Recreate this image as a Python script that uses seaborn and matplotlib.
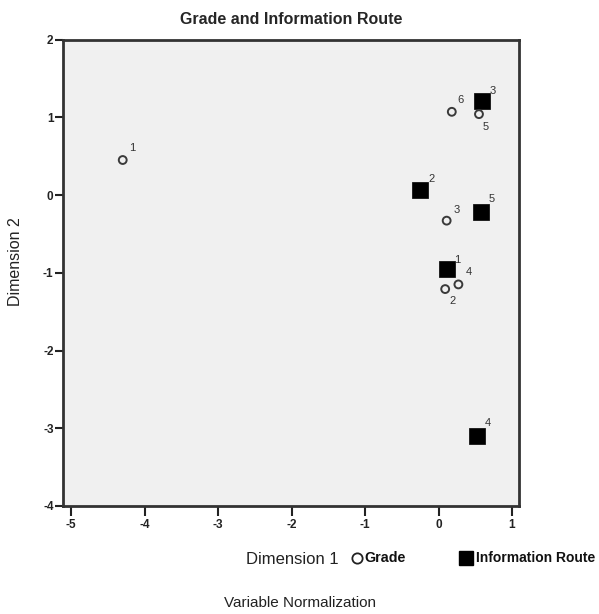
import pandas as pd
import numpy as np
import matplotlib
matplotlib.use("Agg")
import matplotlib.pyplot as plt
from matplotlib.lines import Line2D
import seaborn as sns

# category points
grade_labels = ["1", "2", "3", "4", "5", "6"]
grade_dim1 = [-4.30, 0.09, 0.11, 0.27, 0.55, 0.18]
grade_dim2 = [0.45, -1.21, -0.33, -1.15, 1.04, 1.07]

route_labels = ["1", "2", "3", "4", "5"]
route_dim1 = [0.12, -0.25, 0.59, 0.52, 0.58]
route_dim2 = [-0.95, 0.07, 1.21, -3.10, -0.22]

# label offsets in pixels (dx, dy) relative to each point
grade_offsets = [(9, 12), (7, -12), (10, 11), (10, 12), (7, -13), (9, 12)]
route_offsets = [(10, 9), (11, 11), (11, 10), (11, 13), (10, 13)]

sns.set_theme(style="white")
plt.rcParams['font.family'] = ['Liberation Sans', 'DejaVu Sans']
plt.rcParams['axes.unicode_minus'] = False

df = pd.DataFrame({
    'dim1': grade_dim1 + route_dim1,
    'dim2': grade_dim2 + route_dim2,
    'label': grade_labels + route_labels,
    'variable': ['Grade'] * len(grade_labels) + ['Information Route'] * len(route_labels),
})

fig = plt.figure(figsize=(5.99, 6.14), dpi=100)
ax = fig.add_axes([63.3 / 599, 1 - 506 / 614, 456 / 599, 466.5 / 614])
ax.set_facecolor('#f0f0f0')

grade_df = df[df['variable'] == 'Grade']
route_df = df[df['variable'] == 'Information Route']

sns.scatterplot(data=route_df, x='dim1', y='dim2', marker='s', s=135,
                color='black', edgecolor='black', linewidth=0.5, ax=ax,
                legend=False, zorder=3)
sns.scatterplot(data=grade_df, x='dim1', y='dim2', marker='o', s=32,
                facecolor='none', edgecolor='#3a3a3a', linewidth=1.4, ax=ax,
                legend=False, zorder=4)

px = 0.72
for (_, row), (dx, dy) in zip(grade_df.iterrows(), grade_offsets):
    ax.annotate(row['label'], (row['dim1'], row['dim2']), xytext=(dx * px, dy * px),
                textcoords='offset points', ha='center', va='center',
                fontsize=8, color='#333333')
for (_, row), (dx, dy) in zip(route_df.iterrows(), route_offsets):
    ax.annotate(row['label'], (row['dim1'], row['dim2']), xytext=(dx * px, dy * px),
                textcoords='offset points', ha='center', va='center',
                fontsize=8, color='#333333')

ax.set_xlim(-5.109, 1.099)
ax.set_ylim(-4, 2)
ax.set_xticks(range(-5, 2))
ax.set_yticks(range(-4, 3))
ax.tick_params(axis='x', direction='out', length=7, width=1.5, color='#222222',
               labelsize=8.5, pad=2, bottom=True)
ax.tick_params(axis='y', direction='out', length=6, width=1.5, color='#222222',
               labelsize=8.5, pad=1, left=True)
for lab in ax.get_xticklabels() + ax.get_yticklabels():
    lab.set_fontweight('bold')
    lab.set_color('#222222')
for sp in ax.spines.values():
    sp.set_linewidth(2)
    sp.set_color('#333333')
ax.set_xlabel('')
ax.set_ylabel('')

fig.text(291 / 599, 1 - 19 / 614, 'Grade and Information Route', ha='center', va='center',
         fontsize=11.5, fontweight='bold')
fig.text(16 / 599, 1 - 262 / 614, 'Dimension 2', rotation=90, ha='center', va='center',
         fontsize=11.5, color='#222222')
fig.text(292 / 599, 1 - 559 / 614, 'Dimension 1', ha='center', va='center',
         fontsize=12, color='#222222')
fig.text(300 / 599, 1 - 603 / 614, 'Variable Normalization', ha='center', va='center',
         fontsize=11, color='#222222')

# legend entries placed below the plot, next to the x label
legend_y = 1 - 558 / 614
fig.add_artist(Line2D([357 / 599], [legend_y], marker='o', markersize=7.4,
                      markerfacecolor='none', markeredgecolor='#222222',
                      markeredgewidth=1.3, linestyle='none', transform=fig.transFigure))
fig.text(364 / 599, legend_y, 'Grade', ha='left', va='center',
         fontsize=10.3, fontweight='bold', color='#111111')
fig.add_artist(Line2D([466 / 599], [legend_y], marker='s', markersize=9.4,
                      markerfacecolor='black', markeredgecolor='black',
                      linestyle='none', transform=fig.transFigure))
fig.text(476 / 599, legend_y, 'Information Route', ha='left', va='center',
         fontsize=10, fontweight='bold', color='#111111')

fig.savefig('out.png', dpi=100)
